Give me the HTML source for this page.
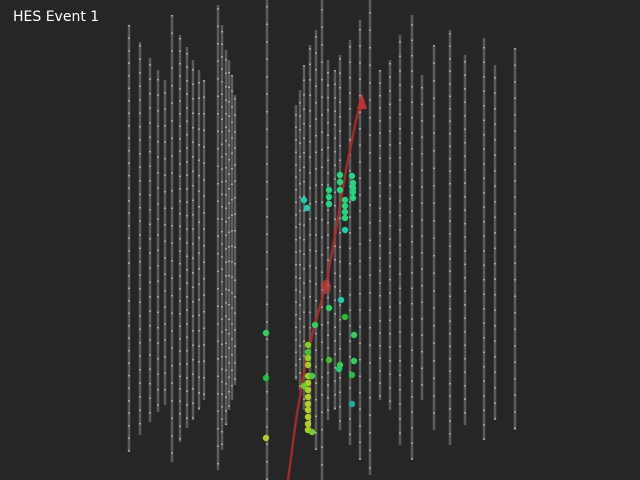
<!DOCTYPE html>
<html><head><meta charset="utf-8"><style>
html,body{margin:0;padding:0;background:#262626;width:640px;height:480px;overflow:hidden}
svg{display:block}
</style></head><body>
<svg id="c" width="640" height="480">
<rect width="640" height="480" fill="#262626"/>
<g id="strings"></g>
<g id="track"></g>
<g id="hits"></g>
<text x="13" y="21" fill="#ffffff" font-family="DejaVu Sans, Liberation Sans, sans-serif" font-size="14">HES Event 1</text>
</svg>
<script>
const stringX=[129,140,150,158,165,172,180,187,193,199,204,218,222,226,229,232,235,267,296,300,304,310,316,322,328,335,340,350,360,370,380,390,400,412,422,434,450,465,484,495,515];
const stringTop=[25,42,58,70,80,15,35,47,60,70,80,5,25,50,60,75,95,0,105,90,65,45,30,0,60,70,55,40,20,0,70,60,35,15,75,45,30,55,38,65,48];
const stringBottom=[452,435,422,412,405,462,442,428,420,410,400,470,450,425,410,400,385,480,380,390,410,430,450,480,420,410,430,445,460,475,400,410,445,460,400,430,445,425,440,420,430];
const hitX=[304,307,329,329,329,340,340,340,352,353,353,353,353,345,345,345,345,345,341,315,329,345,354,329,340,339,354,352,352,266,266,308,308,308,308,308,308,308,308,308,308,308,308,308,312,304,312,266];
const hitY=[200,208,190,197,204,175,182,190,176,183,188,192,198,200,206,212,218,230,300,325,308,317,335,360,365,369,361,375,404,333,378,345,352,358,365,376,383,390,397,404,410,417,424,430,376,386,432,438];
const hitColor=["#1ad0b0","#1ad0b0","#20d880","#20d880","#20d880","#20d880","#20d880","#20d880","#20d880","#20d880","#20d880","#20d880","#20d880","#20d880","#20d880","#20d880","#20d880","#1ad0b0","#1ad0b0","#30d060","#30d060","#20c030","#30d060","#40c030","#30d060","#20d060","#30d060","#20c040","#1ab0a0","#30d060","#20c040","#80d020","#40c040","#90d020","#a0d020","#a0d020","#b0d020","#b0d020","#b0d020","#b0d020","#b0d020","#b0d020","#b0d020","#b0d020","#40d040","#60d030","#70d030","#b0d020"];
const trackX=[288,296,306,316,326,336,346,356,362];
const trackY=[480,420,360,320,285,230,170,120,98];
const NS="http://www.w3.org/2000/svg";
const sg=document.getElementById('strings');
for(let i=0;i<stringX.length;i++){
  const l=document.createElementNS(NS,'line');
  l.setAttribute('x1',stringX[i]);l.setAttribute('x2',stringX[i]);
  l.setAttribute('y1',stringTop[i]);l.setAttribute('y2',stringBottom[i]);
  l.setAttribute('stroke','#5c5c5c');l.setAttribute('stroke-width','2.5');
  
  
  sg.appendChild(l);
  const d=document.createElementNS(NS,'line');
  d.setAttribute('x1',stringX[i]);d.setAttribute('x2',stringX[i]);
  d.setAttribute('y1',stringTop[i]+(i%5)*3);d.setAttribute('y2',stringBottom[i]);
  d.setAttribute('stroke','#f0f0f0');d.setAttribute('stroke-width','1');
  d.setAttribute('stroke-dasharray','1.5 '+(11+i%6));
  
  
  sg.appendChild(d);
}
const tg=document.getElementById('track');
let p='M'+trackX[0]+' '+trackY[0];
for(let i=1;i<trackX.length;i++)p+=' L'+trackX[i]+' '+trackY[i];
const path=document.createElementNS(NS,'path');
path.setAttribute('d',p);path.setAttribute('fill','none');
path.setAttribute('stroke','#b02a2a');path.setAttribute('stroke-width','2.5');
path.setAttribute('opacity','0.9');


tg.appendChild(path);
const n=trackX.length-1;
const ah=document.createElementNS(NS,'polygon');
ah.setAttribute('points',(trackX[n])+','+(trackY[n]-5)+' '+(trackX[n]-5)+','+(trackY[n]+11)+' '+(trackX[n]+5)+','+(trackY[n]+11));
ah.setAttribute('fill','#c03030');


tg.appendChild(ah);
const blob=document.createElementNS(NS,'ellipse');
blob.setAttribute('cx',326);blob.setAttribute('cy',287);blob.setAttribute('rx',5);blob.setAttribute('ry',7);
blob.setAttribute('fill','#d04040');blob.setAttribute('opacity','0.6');


tg.appendChild(blob);
const hg=document.getElementById('hits');
for(let i=0;i<hitX.length;i++){
  const c=document.createElementNS(NS,'circle');
  c.setAttribute('cx',hitX[i]);c.setAttribute('cy',hitY[i]);c.setAttribute('r',3.2);
  c.setAttribute('fill',hitColor[i]);
  
  
  hg.appendChild(c);
}
</script>
</body></html>
